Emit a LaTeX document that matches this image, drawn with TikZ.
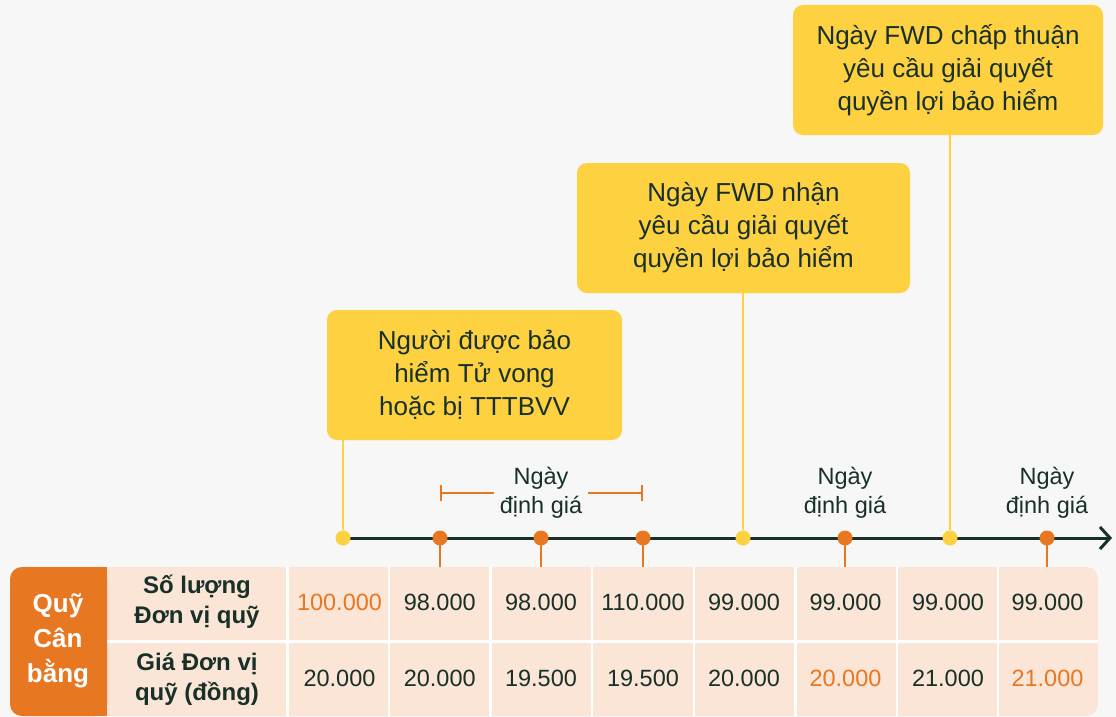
\documentclass[tikz,border=0pt]{standalone}
\usepackage{fontspec}
\setmainfont{Liberation Sans}
\usetikzlibrary{arrows.meta}
\definecolor{bg}{HTML}{F7F7F7}
\definecolor{fwdy}{HTML}{FED141}
\definecolor{fwdo}{HTML}{E87722}
\definecolor{fwdg}{HTML}{183028}
\definecolor{peach}{HTML}{FAE5D6}
\begin{document}
\begin{tikzpicture}[x=1pt,y=-1pt,
  evbox/.style={fill=fwdy, rounded corners=10pt, text=fwdg, align=center,
    font=\fontsize{26}{33}\selectfont, inner sep=0pt},
  dotY/.style={circle, fill=fwdy, minimum size=15pt, inner sep=0pt},
  dotO/.style={circle, fill=fwdo, minimum size=15pt, inner sep=0pt},
  conn/.style={draw=fwdy, line width=2.5pt},
  tick/.style={draw=fwdo, line width=2.5pt},
  brk/.style={draw=fwdo, line width=2pt},
  lbl/.style={align=center, text=fwdg, font=\fontsize{23.5}{29}\selectfont, inner sep=6pt},
  val/.style={text=fwdg, font=\fontsize{23.5}{26}\selectfont},
  valO/.style={text=fwdo, font=\fontsize{23.5}{26}\selectfont},
  rowlbl/.style={align=center, text=fwdg, font=\bfseries\fontsize{24}{29.5}\selectfont},
  fundlbl/.style={align=center, text=white, font=\bfseries\fontsize{26}{35}\selectfont},
  sep/.style={draw=white, line width=2.5pt}]
\useasboundingbox (0,0) rectangle (1116,717);
\fill[bg] (0,0) rectangle (1116,717);

% table
\fill[peach, rounded corners=12pt] (10,567) rectangle (1098,716);
\fill[fwdo, rounded corners=12pt] (10,567) rectangle (107,716);
\fill[fwdo] (60,567) rectangle (107,716);
\foreach \x in {287.5,389,490.5,592,694,795.5,897,998}
  \draw[sep] (\x,567) -- (\x,716);
\draw[sep] (107,641.5) -- (1098,641.5);
\coordinate (ttop) at (0,567);

\node[fundlbl] (fund) at (58,641) {Quỹ\\Cân\\bằng};
\node[rowlbl] (r1) at (197,602) {Số lượng\\Đơn vị quỹ};
\node[rowlbl] (r2) at (197,679) {Giá Đơn vị\\quỹ (đồng)};

\node[valO] (a1) at (339.5,602) {100.000};
\node[val]  (a2) at (439.75,602) {98.000};
\node[val]  (a3) at (541,602) {98.000};
\node[val]  (a4) at (643,602) {110.000};
\node[val]  (a5) at (744,602) {99.000};
\node[val]  (a6) at (845.5,602) {99.000};
\node[val]  (a7) at (948,602) {99.000};
\node[val]  (a8) at (1047.5,602) {99.000};
\node[val]  (c1) at (339.5,678) {20.000};
\node[val]  (c2) at (439.75,678) {20.000};
\node[val]  (c3) at (541,678) {19.500};
\node[val]  (c4) at (643,678) {19.500};
\node[val]  (c5) at (744,678) {20.000};
\node[valO] (c6) at (845.5,678) {20.000};
\node[val]  (c7) at (948,678) {21.000};
\node[valO] (c8) at (1047.5,678) {21.000};

% timeline
\coordinate (p1) at (343,538);
\coordinate (p2) at (440,538);
\coordinate (p3) at (541,538);
\coordinate (p4) at (643,538);
\coordinate (p5) at (743,538);
\coordinate (p6) at (845,538);
\coordinate (p7) at (950,538);
\coordinate (p8) at (1047,538);
\coordinate (tend) at (1112,538);
\draw[line width=3pt, fwdg, -{Straight Barb[length=10pt,width=22pt]}] (p1) -- (tend);

\foreach \i in {2,3,4,6,8} \draw[tick] (p\i) -- (p\i |- ttop);

\node[dotY] (d1) at (p1) {};
\node[dotO] (d2) at (p2) {};
\node[dotO] (d3) at (p3) {};
\node[dotO] (d4) at (p4) {};
\node[dotY] (d5) at (p5) {};
\node[dotO] (d6) at (p6) {};
\node[dotY] (d7) at (p7) {};
\node[dotO] (d8) at (p8) {};

% valuation labels
\node[lbl] (l1) at (541,492.5) {Ngày\\định giá};
\node[lbl] (l2) at (845,492.5) {Ngày\\định giá};
\node[lbl] (l3) at (1047,492.5) {Ngày\\định giá};
\draw[brk, {Bar[width=16pt]}-] (d2 |- l1.west) -- (l1.west);
\draw[brk, -{Bar[width=16pt]}] (l1.east) -- (d4 |- l1.east);

% event boxes
\node[evbox, minimum width=295pt, minimum height=130pt] (b1) at (474.5,375)
  {Người được bảo\\hiểm Tử vong\\hoặc bị TTTBVV};
\node[evbox, minimum width=333pt, minimum height=130pt] (b2) at (743.5,228)
  {Ngày FWD nhận\\yêu cầu giải quyết\\quyền lợi bảo hiểm};
\node[evbox, minimum width=310pt, minimum height=130pt] (b3) at (948,70)
  {Ngày FWD chấp thuận\\yêu cầu giải quyết\\quyền lợi bảo hiểm};

\draw[conn] (b1.south -| d1) -- (d1);
\draw[conn] (b2.south -| d5) -- (d5);
\draw[conn] (b3.south -| d7) -- (d7);
\end{tikzpicture}
\end{document}
